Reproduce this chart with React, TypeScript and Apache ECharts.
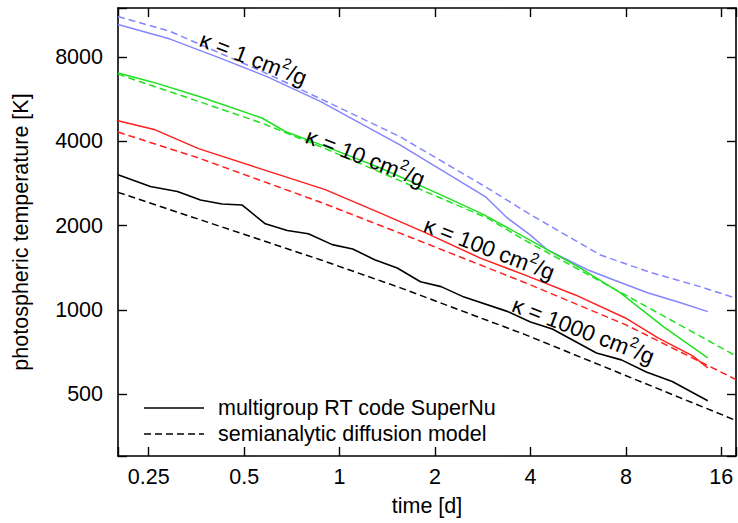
import { useEffect, useRef } from "react";
import * as echarts from "echarts";

const FONT = "'Liberation Sans', Arial, Helvetica, sans-serif";

// axis ranges (time in days, temperature in K)
const xMin = 0.2;
const xMax = 17.8;
const yMin = 300;
const yMax = 12000;
const yUnit = 500; // temperature axis is a base-2 log axis in units of 500 K
const xTickLabels = ["0.25", "0.5", "1", "2", "4", "8", "16"];
const yTickLabels = ["500", "1000", "2000", "4000", "8000"];

// kappa = 1 cm^2/g
const k1SimT = [0.2, 0.292, 0.42, 0.59, 0.869, 1.55, 2.88, 3.38, 4.0, 4.52, 6.05, 7.3, 9.36, 11.9, 14.5];
const k1SimTemp = [10470, 9290, 7940, 6820, 5560, 3890, 2540, 2130, 1850, 1640, 1390, 1280, 1150, 1060, 985];
const k1ModT = [0.2, 0.292, 0.59, 0.869, 1.55, 2.92, 4.0, 6.65, 9.56, 13.7, 17.8];
const k1ModTemp = [11180, 9900, 6990, 5690, 4160, 2730, 2190, 1570, 1360, 1210, 1100];

// kappa = 10 cm^2/g
const k10SimT = [0.2, 0.256, 0.359, 0.569, 0.674, 0.901, 1.34, 2.08, 2.85, 4.0, 5.75, 7.69, 10.5, 14.5];
const k10SimTemp = [7030, 6530, 5800, 4850, 4340, 3840, 3220, 2580, 2190, 1770, 1410, 1150, 870, 673];
const k10ModT = [0.2, 0.359, 0.569, 0.901, 2.08, 2.92, 3.85, 7.97, 17.8];
const k10ModTemp = [6960, 5560, 4650, 3770, 2510, 2130, 1770, 1130, 684];

// kappa = 100 cm^2/g
const k100SimT = [0.2, 0.262, 0.359, 0.555, 0.901, 1.34, 1.84, 2.78, 3.85, 5.54, 7.97, 10.1, 13.0, 14.5];
const k100SimTemp = [4740, 4400, 3770, 3210, 2690, 2220, 1900, 1530, 1330, 1130, 935, 793, 684, 619];
const k100ModT = [0.2, 0.359, 0.901, 1.55, 3.85, 7.97, 17.8];
const k100ModTemp = [4320, 3490, 2390, 1880, 1250, 885, 563];

// kappa = 1000 cm^2/g
const k1000SimT = [0.2, 0.253, 0.308, 0.364, 0.426, 0.492, 0.583, 0.684, 0.797, 0.948, 1.1, 1.29, 1.52, 1.8, 2.09, 2.47, 3.38, 4.0, 4.69, 6.46, 7.74, 9.28, 11.2, 14.5];
const k1000SimTemp = [3040, 2760, 2650, 2470, 2390, 2370, 2030, 1920, 1870, 1710, 1650, 1510, 1410, 1260, 1210, 1110, 987, 905, 854, 701, 662, 599, 554, 473];
const k1000ModT = [0.2, 0.869, 1.55, 3.85, 17.8];
const k1000ModTemp = [2630, 1510, 1200, 815, 402];

const simName = "multigroup RT code SuperNu";
const modName = "semianalytic diffusion model";
const kappaValues = ["1", "10", "100", "1000"];

const BLUE = "#8585ff";
const GREEN = "#22e022";
const RED = "#ff1f1f";
const BLACK = "#000000";
const DASH = [7, 4];
const FS = 21.5;

function pts(ts: number[], temps: number[]) {
  return ts.map((t, i) => [t, temps[i] / yUnit]);
}

function isPow2(v: number) {
  const l = Math.log2(v);
  return Math.abs(l - Math.round(l)) < 1e-6;
}

function fmtX(v: number) {
  const s = String(+Number(v).toPrecision(4));
  return isPow2(v) && xTickLabels.includes(s) ? s : "";
}
function fmtY(v: number) {
  const s = String(Math.round(v * yUnit));
  return isPow2(v) && yTickLabels.includes(s) ? s : "";
}

function line(name: string, data: number[][], color: string, dashed: boolean, width = 1.5) {
  return {
    type: "line",
    name,
    data,
    xAxisIndex: 0,
    yAxisIndex: 0,
    showSymbol: false,
    symbol: "none",
    silent: true,
    lineStyle: { color, width, type: dashed ? DASH : "solid" },
  };
}

const axisLine = { show: true, lineStyle: { color: "#000", width: 1.6 } };
const axisTick = { show: true, inside: true, length: 9, lineStyle: { color: "#000", width: 1.4 } };
const labelBase = { color: "#000", fontSize: FS, fontFamily: FONT };

function kappaLabel(k: string, x: number, y: number) {
  return {
    type: "text",
    x,
    y,
    rotation: (-21 * Math.PI) / 180,
    z: 100,
    style: {
      text: `{a|\u03ba = ${k} cm}{s|2}{a|/g}`,
      align: "center",
      verticalAlign: "middle",
      fill: "#000",
      fontSize: 22.5,
      fontFamily: FONT,
      rich: {
        a: { fontSize: 22.5, fontFamily: FONT, fill: "#000", lineHeight: 27, verticalAlign: "bottom" },
        s: { fontSize: 15, fontFamily: FONT, fill: "#000", lineHeight: 15, verticalAlign: "top" },
      },
    },
  };
}

export default function App() {
  const ref = useRef<HTMLDivElement>(null);
  useEffect(() => {
    if (!ref.current) return;
    const chart = echarts.init(ref.current, null, { renderer: "svg" });
    const option: any = {
      animation: false,
      backgroundColor: "#ffffff",
      grid: { left: 118, right: 2, top: 8, bottom: 67, containLabel: false, outerBoundsMode: "none" },
      xAxis: [
        {
          type: "log",
          logBase: 2,
          min: xMin,
          max: xMax,
          position: "bottom",
          axisLine,
          axisTick,
          minorTick: { show: false },
          splitLine: { show: false },
          axisLabel: { ...labelBase, margin: 10, formatter: fmtX },
          name: "time [d]",
          nameLocation: "middle",
          nameGap: 39,
          nameTextStyle: { ...labelBase },
        },
        {
          type: "log",
          logBase: 2,
          min: xMin,
          max: xMax,
          position: "top",
          axisLine,
          axisTick,
          minorTick: { show: false },
          splitLine: { show: false },
          axisLabel: { show: false },
        },
      ],
      yAxis: [
        {
          type: "log",
          logBase: 2,
          min: yMin / yUnit,
          max: yMax / yUnit,
          position: "left",
          axisLine,
          axisTick,
          minorTick: { show: false },
          splitLine: { show: false },
          axisLabel: { ...labelBase, margin: 15, formatter: fmtY },
          name: "photospheric temperature [K]",
          nameLocation: "middle",
          nameRotate: 90,
          nameGap: 86,
          nameTextStyle: { ...labelBase },
        },
        {
          type: "log",
          logBase: 2,
          min: yMin / yUnit,
          max: yMax / yUnit,
          position: "right",
          axisLine,
          axisTick,
          minorTick: { show: false },
          splitLine: { show: false },
          axisLabel: { show: false },
        },
      ],
      series: [
        line(modName, pts(k1ModT, k1ModTemp), BLUE, true),
        line(simName, pts(k1SimT, k1SimTemp), BLUE, false),
        line(modName, pts(k10ModT, k10ModTemp), GREEN, true),
        line(simName, pts(k10SimT, k10SimTemp), GREEN, false),
        line(modName, pts(k100ModT, k100ModTemp), RED, true),
        line(simName, pts(k100SimT, k100SimTemp), RED, false),
        line(modName, pts(k1000ModT, k1000ModTemp), BLACK, true, 1.5),
        line(simName, pts(k1000SimT, k1000SimTemp), BLACK, false, 1.6),
      ],
      graphic: [
        kappaLabel(kappaValues[0], 254, 57),
        kappaLabel(kappaValues[1], 366, 156),
        kappaLabel(kappaValues[2], 490, 247),
        kappaLabel(kappaValues[3], 584, 329),
        {
          type: "line",
          shape: { x1: 144, y1: 408, x2: 204, y2: 408 },
          style: { stroke: "#000", lineWidth: 1.6 },
        },
        {
          type: "text",
          x: 218,
          y: 408,
          style: { text: simName, fill: "#000", fontSize: FS, fontFamily: FONT, align: "left", verticalAlign: "middle" },
        },
        {
          type: "line",
          shape: { x1: 144, y1: 434, x2: 204, y2: 434 },
          style: { stroke: "#000", lineWidth: 1.5, lineDash: DASH },
        },
        {
          type: "text",
          x: 218,
          y: 434,
          style: { text: modName, fill: "#000", fontSize: FS, fontFamily: FONT, align: "left", verticalAlign: "middle" },
        },
      ],
    };
    chart.setOption(option);
    return () => chart.dispose();
  }, []);
  return <div ref={ref} style={{ position: "fixed", left: 0, top: 0, width: 738, height: 523 }} />;
}
